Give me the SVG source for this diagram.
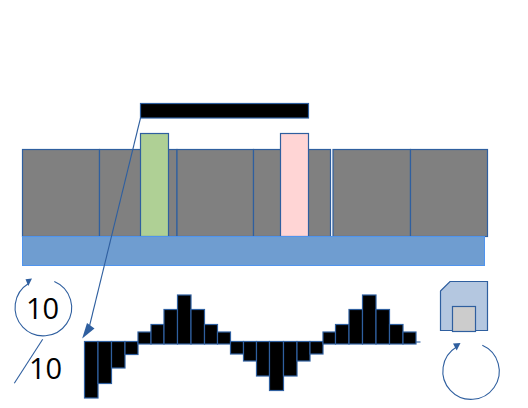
<svg xmlns="http://www.w3.org/2000/svg" width="528" height="408" viewBox="0 0 528 408">
<style>
.s{stroke:#2F5F9F;stroke-width:1.2}
.g{fill:#808080}
.b{fill:#000}
.l{fill:none;stroke:#2F5F9F;stroke-width:1.1}
.h{fill:#2F5F9F;stroke:none}
.t{font-family:"Open Sans","Liberation Sans",sans-serif;font-size:29px;fill:#000;text-anchor:middle}
</style>
<rect width="528" height="408" fill="#fff"/>
<g id="wafer" class="s">
<rect class="g" x="22.500" y="149.500" width="77" height="87"/>
<rect class="g" x="99.500" y="149.500" width="77.500" height="87"/>
<rect class="g" x="177" y="149.500" width="76.500" height="87"/>
<rect class="g" x="253.500" y="149.500" width="77" height="87"/>
<rect class="g" x="333" y="149.500" width="77.500" height="87"/>
<rect class="g" x="410.500" y="149.500" width="77" height="87"/>
</g>
<rect id="green-block" class="s" x="140.500" y="133.500" width="28" height="103" fill="#AFD095"/>
<rect id="pink-block" class="s" x="280.500" y="133.500" width="28" height="103" fill="#FFD5D5"/>
<rect id="substrate" x="22.500" y="236.500" width="462" height="29" fill="#6F9DD0" stroke="#4F94EE" stroke-width="1"/>
<rect id="mask" class="s b" x="140.500" y="103.500" width="168" height="14.500"/>
<g id="waveform" class="s b">
<rect x="84.500" y="341.500" width="13.500" height="56.500"/>
<rect x="98" y="341.500" width="13.500" height="42"/>
<rect x="111.500" y="341.500" width="13.500" height="26.500"/>
<rect x="125" y="341.500" width="13" height="13"/>
<rect x="138" y="332" width="13" height="12"/>
<rect x="151" y="324.500" width="13" height="19.500"/>
<rect x="164" y="309.500" width="13.500" height="34.500"/>
<rect x="177.500" y="295" width="13.500" height="49"/>
<rect x="191" y="309.500" width="13.500" height="34.500"/>
<rect x="204.500" y="324.500" width="13" height="19.500"/>
<rect x="217.500" y="332" width="13" height="12"/>
<rect x="230.500" y="341.500" width="13" height="12.500"/>
<rect x="243.500" y="341.500" width="13" height="19.500"/>
<rect x="256.500" y="341.500" width="13" height="34.500"/>
<rect x="269.500" y="341.500" width="14" height="49"/>
<rect x="283.500" y="341.500" width="13.500" height="34.500"/>
<rect x="297" y="341.500" width="13" height="19.500"/>
<rect x="310" y="341.500" width="13" height="12.500"/>
<rect x="323" y="332" width="12.500" height="12"/>
<rect x="335.500" y="324.500" width="13.500" height="19.500"/>
<rect x="349" y="309.500" width="13.500" height="34.500"/>
<rect x="362.500" y="295" width="13.500" height="49"/>
<rect x="376" y="309.500" width="13.500" height="34.500"/>
<rect x="389.500" y="324.500" width="13.500" height="19.500"/>
<rect x="403" y="332" width="13" height="12"/>
</g>
<g id="card">
<path class="s" d="M440.500 291L450 281.500H487.500V330.500H440.500Z" fill="#B4C7E0"/>
<rect class="s" x="452.500" y="306.500" width="23" height="25" fill="#CCCCCC"/>
</g>
<g id="label-10-a"><text class="t" x="42.500" y="319">10</text></g>
<g id="label-10-b"><text class="t" x="45.500" y="378.500">10</text></g>
<g id="connectors">
<path class="l" d="M140.500 118L89.500 326"/>
<polygon class="h" points="82.200,338.500 87,323 94.500,328.500"/>
<path class="l" d="M416 342H420.500"/>
<path class="l" d="M14.300 383.300L42.700 339.300"/>
<path class="l" d="M54.300 281.500A28.300 28.300 0 1 1 28.500 283.500"/>
<polygon class="h" points="32,278.500 25.500,279.300 28.300,286"/>
<path class="l" d="M482.300 345.300A28.200 28.200 0 1 1 456.500 347"/>
<polygon class="h" points="460.500,343 453,343.500 456.700,350.500"/>
</g>
</svg>
